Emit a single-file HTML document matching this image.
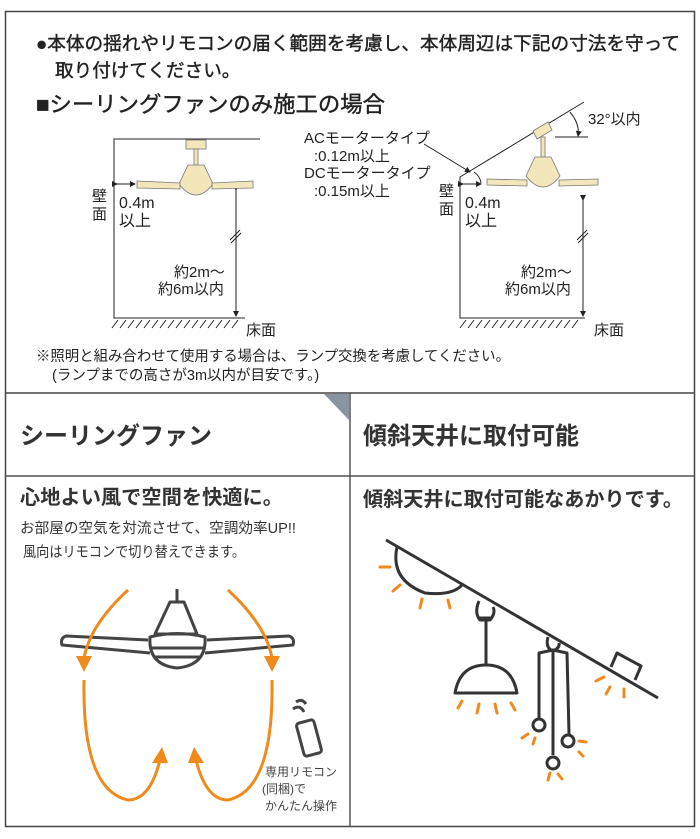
<!DOCTYPE html>
<html><head><meta charset="utf-8"><style>
html,body{margin:0;padding:0;background:#fff;}
svg{display:block;}
text{font-family:"Liberation Sans","Noto Sans CJK JP",sans-serif;fill:#222;}
</style></head><body>
<svg width="700" height="839" viewBox="0 0 700 839" xmlns="http://www.w3.org/2000/svg">
<defs>
<marker id="ar" markerWidth="6" markerHeight="6" refX="5" refY="3" orient="auto" markerUnits="userSpaceOnUse"><path d="M0,0 L6,3 L0,6 z" fill="#222"/></marker>
</defs>
<rect x="5.5" y="11.5" width="689" height="815" fill="none" stroke="#444" stroke-width="1.5"/>
<line x1="5" y1="393" x2="695" y2="393" stroke="#444" stroke-width="1.5"/>
<line x1="5" y1="476" x2="695" y2="476" stroke="#555" stroke-width="1.5"/>
<line x1="350" y1="393" x2="350" y2="827" stroke="#555" stroke-width="1.5"/>
<polygon points="324,394 349,394 349,420" fill="#8a93a0"/>

<text x="36" y="50" font-size="18.6" textLength="644" lengthAdjust="spacingAndGlyphs" stroke="#222" stroke-width="0.4">●本体の揺れやリモコンの届く範囲を考慮し、本体周辺は下記の寸法を守って</text>
<text x="55" y="77" font-size="18.6" stroke="#222" stroke-width="0.4">取り付けてください。</text>
<text x="36" y="112" font-size="22" textLength="349" lengthAdjust="spacingAndGlyphs" stroke="#222" stroke-width="0.4">■シーリングファンのみ施工の場合</text>

<!-- left diagram -->
<g stroke="#222" stroke-width="1" fill="none">
<polyline points="260,139 114,139 114,318 245,318"/>
<line x1="236" y1="190" x2="236" y2="316" marker-start="url(#ar)" marker-end="url(#ar)"/>
<line x1="230" y1="240" x2="240" y2="230"/><line x1="231" y1="243" x2="241" y2="233"/>
<line x1="117" y1="184" x2="135" y2="184" marker-start="url(#ar)" marker-end="url(#ar)"/>
</g>
<g stroke="#222" stroke-width="1">
<path d="M112,328 l6,-8 M120,328 l6,-8 M128,328 l6,-8 M136,328 l6,-8 M144,328 l6,-8 M152,328 l6,-8 M160,328 l6,-8 M168,328 l6,-8 M176,328 l6,-8 M184,328 l6,-8 M192,328 l6,-8 M200,328 l6,-8 M208,328 l6,-8 M216,328 l6,-8 M224,328 l6,-8 M232,328 l6,-8"/>
</g>
<g fill="#f3e6bb" stroke="#777" stroke-width="0.8">
<rect x="186" y="140" width="20" height="9"/>
<rect x="194" y="149" width="4" height="16"/>
<path d="M188,165 L204,165 L213,184 Q196,206 179,184 Z"/>
<path d="M137,181 L180,183 L180,189 L137,188 Z"/>
<path d="M212,183 L253,181 L253,188 L212,189 Z"/>
</g>
<text x="92" y="201" font-size="15">壁</text><text x="92" y="219" font-size="15">面</text>
<text x="119" y="208" font-size="16">0.4m</text><text x="119" y="226" font-size="16">以上</text>
<text x="174" y="277" font-size="15">約2m〜</text><text x="158" y="294" font-size="15">約6m以内</text>
<text x="246" y="335" font-size="15">床面</text>

<!-- middle labels -->
<text x="304" y="143" font-size="15">ACモータータイプ</text>
<text x="314" y="161" font-size="15">:0.12m以上</text>
<text x="304" y="178" font-size="15">DCモータータイプ</text>
<text x="314" y="196" font-size="15">:0.15m以上</text>
<line x1="424" y1="144" x2="470" y2="172" stroke="#222" stroke-width="1" marker-end="url(#ar)"/>

<!-- right diagram -->
<g stroke="#222" stroke-width="1" fill="none">
<polyline points="584,102 460,177 460,318 585,318"/>
<line x1="555" y1="137" x2="588" y2="137"/>
<path d="M570,112 Q580,124 578,136" marker-end="url(#ar)"/>
<line x1="583" y1="200" x2="583" y2="316" marker-start="url(#ar)" marker-end="url(#ar)"/>
<line x1="577" y1="240" x2="587" y2="230"/><line x1="578" y1="243" x2="588" y2="233"/>
<line x1="463" y1="184" x2="481" y2="184" marker-start="url(#ar)" marker-end="url(#ar)"/>
<path d="M474,172 Q480,176 481,183"/>
<path d="M460,328 l6,-8 M468,328 l6,-8 M476,328 l6,-8 M484,328 l6,-8 M492,328 l6,-8 M500,328 l6,-8 M508,328 l6,-8 M516,328 l6,-8 M524,328 l6,-8 M532,328 l6,-8 M540,328 l6,-8 M548,328 l6,-8 M556,328 l6,-8 M564,328 l6,-8 M572,328 l6,-8"/>
</g>
<g fill="#f3e6bb" stroke="#777" stroke-width="0.8">
<path d="M533,131 L548,122 L552,130 L537,139 Z"/>
<rect x="541" y="137" width="4" height="20"/>
<path d="M535,157 L551,157 L560,176 Q543,198 526,176 Z"/>
<path d="M487,179 L527,180 L527,186 L487,185 Z"/>
<path d="M559,180 L598,179 L598,185 L559,186 Z"/>
</g>
<text x="439" y="196" font-size="15">壁</text><text x="439" y="214" font-size="15">面</text>
<text x="465" y="208" font-size="16">0.4m</text><text x="465" y="226" font-size="16">以上</text>
<text x="521" y="277" font-size="15">約2m〜</text><text x="505" y="294" font-size="15">約6m以内</text>
<text x="594" y="335" font-size="15">床面</text>
<text x="588" y="124" font-size="15">32°以内</text>

<text x="36" y="361" font-size="14.5" textLength="474" lengthAdjust="spacingAndGlyphs">※照明と組み合わせて使用する場合は、ランプ交換を考慮してください。</text>
<text x="52" y="380" font-size="14.5">(ランプまでの高さが3m以内が目安です。)</text>

<!-- headers -->
<text x="20" y="444" font-size="24" font-weight="bold" style="fill:#333">シーリングファン</text>
<text x="363" y="444" font-size="24" font-weight="bold" style="fill:#333">傾斜天井に取付可能</text>
<text x="20" y="504" font-size="20" font-weight="bold" style="fill:#333" textLength="263" lengthAdjust="spacingAndGlyphs">心地よい風で空間を快適に。</text>
<text x="363" y="506" font-size="20" font-weight="bold" style="fill:#333" textLength="320" lengthAdjust="spacingAndGlyphs">傾斜天井に取付可能なあかりです。</text>
<text x="20" y="533" font-size="14.5" style="fill:#333" textLength="276" lengthAdjust="spacingAndGlyphs">お部屋の空気を対流させて、空調効率UP!!</text>
<text x="23" y="557" font-size="14.5" style="fill:#333" textLength="222" lengthAdjust="spacingAndGlyphs">風向はリモコンで切り替えできます。</text>

<!-- left fan -->
<g stroke="#444" stroke-width="3" fill="none" stroke-linejoin="round">
<line x1="177" y1="589" x2="177" y2="601"/>
<path d="M170,602 L184,602 L197,634 L155,634 Z"/>
<path d="M150,637 Q177,630 205,637 Q207,665 177,668 Q148,665 150,637 Z"/>
<line x1="151" y1="648" x2="204" y2="648"/><line x1="155" y1="657" x2="200" y2="657"/>
<path d="M148,640 L66,636 Q60,638 62,645 L150,653"/>
<path d="M207,640 L289,636 Q295,638 293,645 L205,653"/>
</g>
<g stroke="#f08a1c" stroke-width="3" fill="none">
<path d="M128,590 Q90,625 84,658"/>
<path d="M228,590 Q266,625 272,658"/>
<path d="M84,680 Q82,790 128,800 Q150,800 160,760"/>
<path d="M272,680 Q274,790 228,800 Q206,800 196,760"/>
</g>
<g fill="#f08a1c">
<polygon points="76,656 92,656 84,672"/>
<polygon points="264,656 280,656 272,672"/>
<polygon points="152,763 168,763 162,747"/>
<polygon points="188,763 204,763 194,747"/>
</g>
<g stroke="#444" stroke-width="3" fill="none">
<rect x="300" y="721" width="18" height="34" rx="3" transform="rotate(-15 309 738)"/>
<path d="M296,702 Q302,698 306,704"/>
<path d="M293,709 Q300,704 304,712"/>
</g>
<text x="265" y="776" font-size="12" style="fill:#444">専用リモコン</text>
<text x="262" y="793" font-size="12" style="fill:#444">(同梱)で</text>
<text x="265" y="810" font-size="12" style="fill:#444">かんたん操作</text>

<!-- right lights -->
<g stroke="#333" stroke-width="3" fill="none" stroke-linejoin="round">
<line x1="386" y1="540" x2="658" y2="698"/>
<path d="M397,547 Q390,580 425,593 Q452,596 462,585"/>
<path d="M479,601 Q474,613 480,620 L490,620 Q496,613 493,607"/>
<line x1="478" y1="618" x2="492" y2="618"/>
<line x1="486" y1="620" x2="486" y2="665"/>
<path d="M455,693 Q460,665 486,665 Q512,665 517,693 Z"/>
<path d="M548,637 Q545,648 553,651 Q560,648 559,643"/>
<polyline points="539,718 539,653 553,650 567,653 569,734"/>
<line x1="553" y1="650" x2="553" y2="755"/>
<circle cx="539" cy="725" r="6"/>
<circle cx="553" cy="763" r="6"/>
<circle cx="568" cy="741" r="6"/>
<path d="M611,667 L617,653 L641,666 L635,680"/>
</g>
<g stroke="#f08a1c" stroke-width="3" stroke-linecap="round">
<line x1="380" y1="567" x2="390" y2="567"/>
<line x1="393" y1="591" x2="400" y2="585"/>
<line x1="420" y1="608" x2="422" y2="599"/>
<line x1="450" y1="608" x2="448" y2="600"/>
<line x1="458" y1="708" x2="462" y2="701"/>
<line x1="477" y1="713" x2="479" y2="704"/>
<line x1="497" y1="713" x2="495" y2="704"/>
<line x1="515" y1="710" x2="511" y2="703"/>
<line x1="522" y1="738" x2="528" y2="734"/>
<line x1="533" y1="744" x2="535" y2="738"/>
<line x1="548" y1="780" x2="550" y2="773"/>
<line x1="562" y1="779" x2="558" y2="774"/>
<line x1="579" y1="741" x2="586" y2="742"/>
<line x1="579" y1="752" x2="583" y2="756"/>
<line x1="596" y1="681" x2="604" y2="677"/>
<line x1="606" y1="694" x2="610" y2="687"/>
<line x1="624" y1="697" x2="624" y2="689"/>
</g>
</svg>
</body></html>
